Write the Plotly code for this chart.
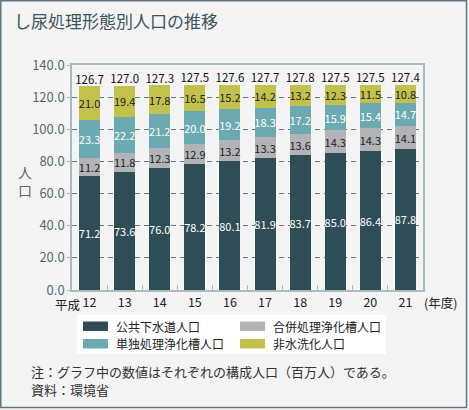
import plotly.graph_objects as go

years = ["12", "13", "14", "15", "16", "17", "18", "19", "20", "21"]
sewer = [71.2, 73.6, 76.0, 78.2, 80.1, 81.9, 83.7, 85.0, 86.4, 87.8]
combined = [11.2, 11.8, 12.3, 12.9, 13.2, 13.3, 13.6, 14.3, 14.3, 14.1]
single = [23.3, 22.2, 21.2, 20.0, 19.2, 18.3, 17.2, 15.9, 15.4, 14.7]
nonflush = [21.0, 19.4, 17.8, 16.5, 15.2, 14.2, 13.2, 12.3, 11.5, 10.8]
totals = [126.7, 127.0, 127.3, 127.5, 127.6, 127.7, 127.8, 127.5, 127.5, 127.4]

names = ["公共下水道人口", "合併処理浄化槽人口", "単独処理浄化槽人口", "非水洗化人口"]
colors = ["#2f4d55", "#b1b3b6", "#6aaab0", "#c1c14b"]
textcolors = ["white", "#222222", "white", "#222222"]

W, H = 469, 410
L, R, T, B = 72, 46, 65, 120
PW, PH = W - L - R, H - T - B


def px(x):
    return (x - L) / PW


def py(y):
    return 1 - (y - T) / PH


FONT = "Noto Sans CJK JP"

fig = go.Figure()
for vals, name, col, tc in zip([sewer, combined, single, nonflush], names, colors, textcolors):
    fig.add_trace(go.Bar(
        x=years, y=vals, name=name, marker=dict(color=col, line=dict(width=0)),
        text=[f"{v:.1f}" for v in vals], textposition="inside", insidetextanchor="middle",
        textangle=0, constraintext="none",
        textfont=dict(family=FONT, size=11, color=tc), showlegend=False,
        hoverinfo="skip",
    ))

fig.add_trace(go.Scatter(
    x=years, y=totals, mode="text", text=[f"{v:.1f}" for v in totals],
    textposition="top center", textfont=dict(family=FONT, size=11.5, color="#111111"),
    showlegend=False, hoverinfo="skip",
))

shapes = []
annotations = []

# outer frame
shapes.append(dict(type="rect", xref="paper", yref="paper",
                   x0=px(0.75), x1=px(466.5), y0=py(407.5), y1=py(0.75),
                   line=dict(color="#5c7580", width=1.5), fillcolor="rgba(0,0,0,0)", layer="below"))

# legend box
shapes.append(dict(type="rect", xref="paper", yref="paper",
                   x0=px(77), x1=px(386), y0=py(354), y1=py(315),
                   line=dict(width=0), fillcolor="white"))
leg_pos = [(83, 321.5), (240, 321.5), (83, 339), (240, 339)]
for (lx, ly), name, col in zip(leg_pos, names, colors):
    shapes.append(dict(type="rect", xref="paper", yref="paper",
                       x0=px(lx), x1=px(lx + 25), y0=py(ly + 9.5), y1=py(ly),
                       line=dict(width=0), fillcolor=col))
    annotations.append(dict(xref="paper", yref="paper", x=px(lx + 31), y=py(ly + 4.8),
                            text=name, showarrow=False, xanchor="left", yanchor="middle",
                            font=dict(family=FONT, size=12, color="#222222")))

# title
annotations.append(dict(xref="paper", yref="paper", x=px(12), y=py(20), text="し尿処理形態別人口の推移",
                        showarrow=False, xanchor="left", yanchor="middle",
                        font=dict(family=FONT, size=17, color="#3b535b")))
# y-axis title
annotations.append(dict(xref="paper", yref="paper", x=px(25), y=py(181), text="人<br>口",
                        showarrow=False, xanchor="center", yanchor="middle",
                        font=dict(family=FONT, size=14, color="#556b74")))
# 平成 prefix and (年度)
annotations.append(dict(xref="paper", yref="paper", x=px(80.5), y=py(293.5), text="平成",
                        showarrow=False, xanchor="right", yanchor="top", borderpad=0,
                        font=dict(family=FONT, size=12.5, color="#222222")))
annotations.append(dict(xref="paper", yref="paper", x=px(422), y=py(302), text="(年度)",
                        showarrow=False, xanchor="left", yanchor="middle",
                        font=dict(family=FONT, size=12.5, color="#222222")))
# notes
annotations.append(dict(xref="paper", yref="paper", x=px(29), y=py(371),
                        text="注：グラフ中の数値はそれぞれの構成人口（百万人）である。",
                        showarrow=False, xanchor="left", yanchor="middle",
                        font=dict(family=FONT, size=13, color="#333333")))
annotations.append(dict(xref="paper", yref="paper", x=px(29), y=py(389.5),
                        text="資料：環境省",
                        showarrow=False, xanchor="left", yanchor="middle",
                        font=dict(family=FONT, size=13, color="#333333")))

fig.update_layout(
    width=W, height=H, margin=dict(l=L, r=R, t=T, b=B, autoexpand=False),
    paper_bgcolor="#f4f4f4", plot_bgcolor="#f4f4f4",
    barmode="stack", bargap=0.4,
    shapes=shapes, annotations=annotations,
    font=dict(family=FONT),
)
fig.update_xaxes(
    type="category", showline=True, mirror=True, linecolor="#a9bac1", linewidth=1.5,
    ticks="inside", tickson="boundaries", ticklen=5, tickcolor="#a9bac1",
    tickfont=dict(family=FONT, size=12.5, color="#222222"), showgrid=False,
)
fig.update_yaxes(
    range=[0, 140], dtick=20, tickformat=".1f", showline=True, mirror=True,
    linecolor="#a9bac1", linewidth=1.5, ticks="outside", ticklen=3, tickcolor="#a9bac1",
    tickfont=dict(family=FONT, size=13, color="#4f6b75"),
    showgrid=True, gridcolor="#61767f", griddash="5px,4px", gridwidth=1, zeroline=False,
)

fig.write_html("out.html", config={"displayModeBar": False},
               post_script="document.body.style.margin='0px';document.body.style.background='#f4f4f4';")
